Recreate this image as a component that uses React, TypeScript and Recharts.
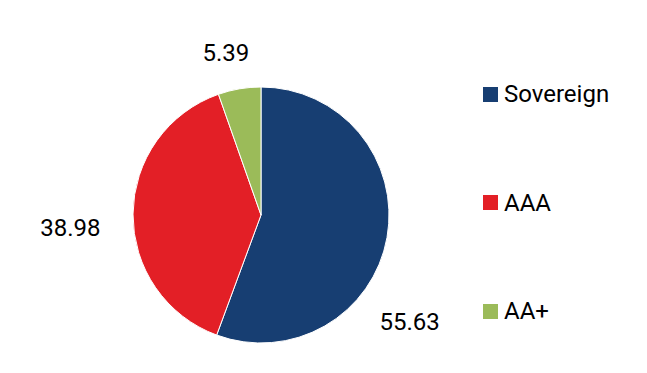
import { PieChart, Pie, Cell, Legend } from "recharts";

// ── Data ──────────────────────────────────────────────────────────────────────

const categories = ["Sovereign", "AAA", "AA+"];
const shares = [55.63, 38.98, 5.39];
const colors = ["#173e72", "#e31f26", "#9bbb59"];

const data = categories.map((name, i) => ({ name, value: shares[i] }));

// label placement around the pie (clockwise deg from 12 o'clock, distance from centre)
const LABEL_POS: Record<string, { angle: number; dist: number }> = {
  Sovereign: { angle: 125.7, dist: 183 },
  AAA: { angle: 266, dist: 191 },
  "AA+": { angle: 347.8, dist: 166 },
};

const FONT = "Roboto, 'Noto Sans', sans-serif";

function renderLabel(props: any) {
  const { cx, cy, name, value } = props;
  const pos = LABEL_POS[name];
  const rad = (pos.angle * Math.PI) / 180;
  const x = cx + pos.dist * Math.sin(rad);
  const y = cy - pos.dist * Math.cos(rad);
  return (
    <text
      x={x}
      y={y}
      textAnchor="middle"
      dominantBaseline="central"
      fill="#000"
      fontSize={24}
      fontFamily={FONT}
    >
      {value.toFixed(2)}
    </text>
  );
}

function LegendContent() {
  return (
    <div style={{ fontFamily: FONT, fontSize: 24, color: "#000" }}>
      {categories.map((c, i) => (
        <div key={c} style={{ height: 108.5, display: "flex", alignItems: "center" }}>
          <span
            style={{
              display: "inline-block",
              width: 15,
              height: 15,
              background: colors[i],
              marginRight: 6,
            }}
          />
          <span>{c}</span>
        </div>
      ))}
    </div>
  );
}

export default function App() {
  return (
    <div style={{ position: "absolute", left: 0, top: 0, background: "#fff" }}>
      <PieChart width={647} height={373} margin={{ top: 0, right: 0, bottom: 0, left: 0 }}>
        <Pie
          data={data}
          dataKey="value"
          nameKey="name"
          cx={261}
          cy={215}
          outerRadius={128}
          startAngle={90}
          endAngle={-270}
          stroke="#fff"
          strokeWidth={1}
          label={renderLabel}
          labelLine={false}
          isAnimationActive={false}
        >
          {data.map((d, i) => (
            <Cell key={d.name} fill={colors[i]} />
          ))}
        </Pie>
        <Legend
          content={<LegendContent />}
          wrapperStyle={{ left: 483, top: 40, width: 160 }}
        />
      </PieChart>
    </div>
  );
}
